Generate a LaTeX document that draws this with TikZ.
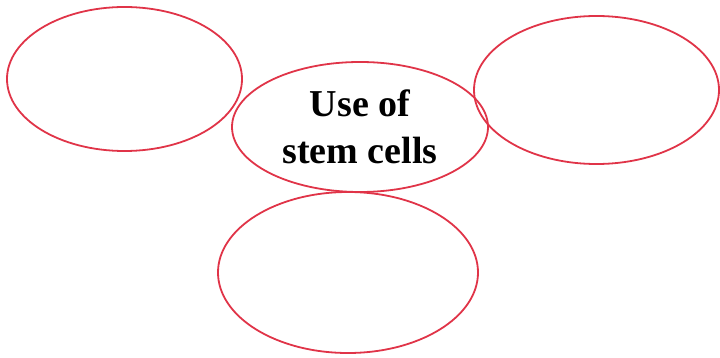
\documentclass[tikz,border=0pt]{standalone}
\usepackage{fontspec}
\setmainfont{Liberation Serif}
\usetikzlibrary{shapes.geometric}
\definecolor{ring}{RGB}{224,52,72}
\tikzset{
  bubble/.style={ellipse, draw=ring, line width=1.8pt, inner sep=0pt, fill=none},
}
\begin{document}
\begin{tikzpicture}[x=1pt,y=-1pt]
\useasboundingbox (0,0) rectangle (720,358);
\node[bubble, minimum width=235pt, minimum height=144pt] (left) at (124.5,79) {};
\node[bubble, minimum width=245pt, minimum height=148pt] (right) at (596.5,90) {};
\node[bubble, minimum width=260pt, minimum height=161pt] (bottom) at (348,272.5) {};
\node[bubble, minimum width=256pt, minimum height=130pt, align=center,
      font=\fontsize{38}{47}\selectfont\bfseries] (center) at (360,127) {Use of\\stem cells};
\end{tikzpicture}
\end{document}
